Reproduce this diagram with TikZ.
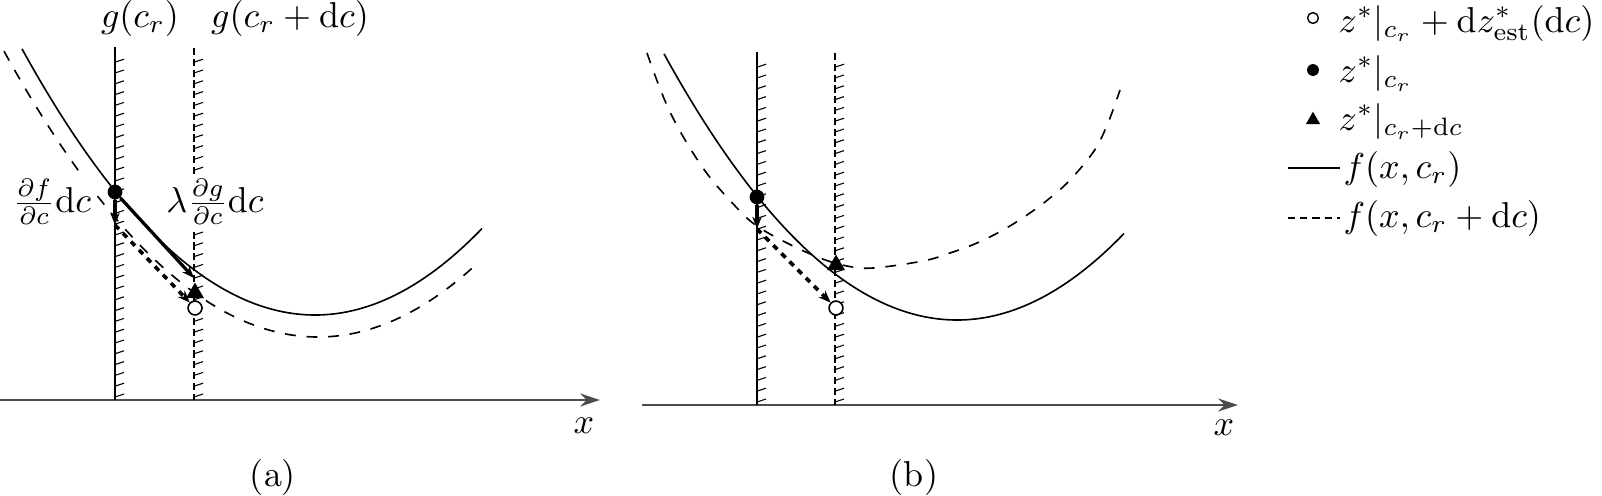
\documentclass[tikz,border=0pt]{standalone}
\usetikzlibrary{arrows.meta,shapes.geometric}
\begin{document}
\begin{tikzpicture}[x=0.2778pt,y=-0.2778pt,
  barrier/.style={line width=0.5pt},
  dbarrier/.style={line width=0.5pt,dash pattern=on 2pt off 1pt},
  hatch/.style={line width=0.3pt},
  curve/.style={line width=0.45pt},
  dcurve/.style={line width=0.45pt,dashed},
  vecarr/.style={line width=0.9pt,-{Stealth[length=3.4pt,width=2.6pt]}},
  estarr/.style={line width=1pt,dash pattern=on 1.6pt off 1.6pt,-{Stealth[length=3.4pt,width=2.6pt]}},
  axisarr/.style={line width=0.7pt,black!70,-{Stealth[length=5.5pt,width=3.6pt]}},
  dotm/.style={circle,fill=black,inner sep=0pt,minimum size=4.1pt},
  circm/.style={circle,draw=black,fill=white,line width=0.4pt,inner sep=0pt,minimum size=3.8pt},
  trim/.style={regular polygon,regular polygon sides=3,fill=black,inner sep=0pt,minimum size=5.8pt},
  lbl/.style={fill=white,inner sep=1pt},
  legtxt/.style={anchor=west,inner sep=0pt}]
\useasboundingbox (0,0) rectangle (1602,495);

% ---------------- panel (a) ----------------
\coordinate (axA0) at (0,400);
\coordinate (axA1) at (600,400);
\draw[axisarr] (axA0) -- (axA1);
\node (xA) at (584,426) {$x$};
\node (capA) at (273,477) {(a)};

\coordinate (bA0) at (115,47);
\coordinate (bA1) at (115,400);
\draw[barrier] (bA0) -- (bA1);
\foreach \yy in {397,386.2,...,60} \draw[hatch] (115,\yy) -- ++(9,-3);
\coordinate (cA0) at (194,48);
\coordinate (cA1) at (194,400);
\draw[dbarrier] (cA0) -- (cA1);
\foreach \yy in {397,386.2,...,60} \draw[hatch] (194,\yy) -- ++(9,-3);

\draw[curve] plot[domain=22:482,samples=90,smooth] (\x,{315-(0.05568*(\x-315))^2});
\draw[dcurve] plot[domain=4:478,samples=90,smooth] (\x,{337-(0.05385*(\x-318))^2});

\node (gA) at (140,18) {$g(c_r)$};
\node (gB) at (290,18) {$g(c_r+\mathrm{d}c)$};
\node[lbl] (lf) at (52,202) {$\frac{\partial f}{\partial c}\mathrm{d}c$};
\node[lbl] (lg) at (215,202) {$\lambda\frac{\partial g}{\partial c}\mathrm{d}c$};

\node[dotm] (dA) at (115,192) {};
\coordinate (dfA) at (115,225);
\coordinate (lgA) at (194,278);
\node[circm] (oA) at (195,308) {};
\draw[vecarr] (dA) -- (dfA);
\draw[vecarr] (dA) -- (lgA);
\draw[estarr] (dfA) -- (oA);
\node[circm] at (oA) {};
\node[trim] (tA) at (195,293) {};

% ---------------- panel (b) ----------------
\coordinate (axB0) at (642,405);
\coordinate (axB1) at (1238,405);
\draw[axisarr] (axB0) -- (axB1);
\node (xB) at (1224,428) {$x$};
\node (capB) at (914,477) {(b)};

\coordinate (bB0) at (757,52);
\coordinate (bB1) at (757,405);
\draw[barrier] (bB0) -- (bB1);
\foreach \yy in {402,391.2,...,65} \draw[hatch] (757,\yy) -- ++(9,-3);
\coordinate (cB0) at (835,53);
\coordinate (cB1) at (835,405);
\draw[dbarrier] (cB0) -- (cB1);
\foreach \yy in {402,391.2,...,65} \draw[hatch] (835,\yy) -- ++(9,-3);

\draw[curve] plot[domain=664:1124,samples=90,smooth] (\x,{320-(0.05568*(\x-957))^2});
\draw[dcurve] plot[smooth,tension=0.6] coordinates {(647,53) (670,112) (703,168) (737,208) (757,226) (787,243) (820,258) (847,266) (873,268) (923,261) (950,253) (977,243) (1003,230) (1027,215) (1050,198) (1070,180) (1094,151) (1108,123) (1120,90)};

\node[dotm] (dB) at (757,197) {};
\coordinate (dfB) at (757,229);
\node[circm] (oB) at (836,308) {};
\draw[vecarr] (dB) -- (dfB);
\draw[estarr] (dfB) -- (oB);
\node[circm] at (oB) {};
\node[trim] (tB) at (836,265) {};

% ---------------- legend ----------------
\node[circm,minimum size=3pt] (m1) at (1313,18) {};
\node[legtxt] (t1) at (1338,23) {$z^*|_{c_r}+\mathrm{d}z^*_{\mathrm{est}}(\mathrm{d}c)$};
\node[dotm,minimum size=3.3pt] (m2) at (1313,70) {};
\node[legtxt] (t2) at (1338,73) {$z^*|_{c_r}$};
\node[trim,minimum size=4.6pt] (m3) at (1313,120) {};
\node[legtxt] (t3) at (1338,121) {$z^*|_{c_r+\mathrm{d}c}$};
\coordinate (s4a) at (1288,168);
\coordinate (s4b) at (1340,168);
\draw[curve] (s4a) -- (s4b);
\node[legtxt] (t4) at (1343,169) {$f(x,c_r)$};
\coordinate (s5a) at (1288,218);
\coordinate (s5b) at (1340,218);
\draw[line width=0.45pt,dash pattern=on 2pt off 1.4pt] (s5a) -- (s5b);
\node[legtxt] (t5) at (1343,218) {$f(x,c_r+\mathrm{d}c)$};
\end{tikzpicture}
\end{document}
